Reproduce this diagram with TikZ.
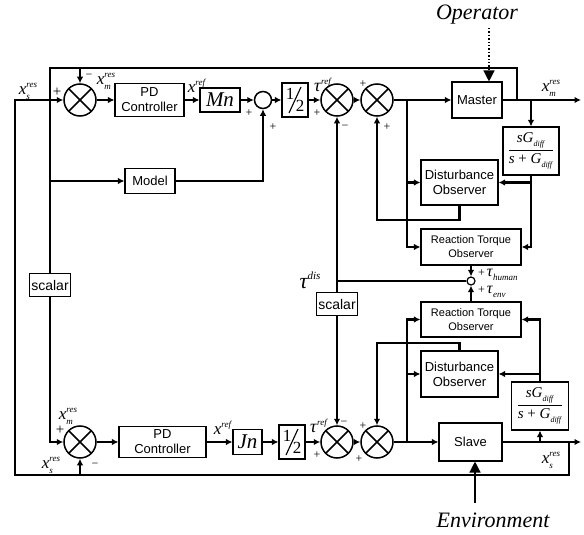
\documentclass[tikz,border=0pt]{standalone}
\usepackage{amsmath}
\usepackage{graphicx}
\usepackage{fontspec}
\setmainfont{Liberation Serif}
\newfontfamily\sansf{Liberation Sans}
\usetikzlibrary{arrows.meta}
\newcommand{\up}[2][9]{\raisebox{0.42em}{\fontsize{#1}{#1}\selectfont\textit{#2}}}
\newcommand{\dn}[2][9]{\raisebox{-0.28em}{\fontsize{#1}{#1}\selectfont\textit{#2}}}
\newcommand{\xsr}[2]{\textit{x}\rlap{\dn{#1}}\up{#2}}
\newcommand{\fracsg}{$\dfrac{\mbox{\textit{sG}\dn[8]{diff}}}{\mbox{\textit{s} + \textit{G}\dn[8]{diff}}}$}
\newcommand{\halfnum}{\raisebox{5pt}{1}\hspace{1.5pt}\raisebox{-7pt}{2}}
\tikzset{
  sig/.style={line width=2.6pt},
  arr/.style={line width=2.6pt,-{Latex[length=6.5pt,width=6.5pt]}},
  blk/.style={draw,line width=1.1pt,fill=white,inner sep=0pt,align=center,font=\sansf\fontsize{13}{15}\selectfont},
  rto/.style={blk,minimum width=100pt,minimum height=36pt,font=\sansf\fontsize{11}{14}\selectfont},
  dob/.style={blk,minimum width=77pt,minimum height=45pt},
  sgbox/.style={blk,minimum width=56pt,minimum height=48pt,font=\fontsize{15}{15}\selectfont},
  sumx/.style={circle,draw,line width=1.5pt,minimum size=32pt,inner sep=0pt,fill=white,
    path picture={\draw[line width=1.5pt] (path picture bounding box.north west)--(path picture bounding box.south east) (path picture bounding box.north east)--(path picture bounding box.south west);}},
  half/.style={blk,minimum width=26pt,minimum height=34pt,font=\fontsize{17}{17}\selectfont,
    path picture={\draw[line width=1.1pt] ([xshift=-6pt,yshift=-13pt]path picture bounding box.center)--([xshift=6pt,yshift=13pt]path picture bounding box.center);}},
  gain/.style={blk,font=\fontsize{21}{21}\selectfont\itshape},
  scl/.style={blk,minimum width=41pt,minimum height=23pt,font=\sansf\fontsize{14}{14}\selectfont},
  sgn/.style={inner sep=0pt,font=\fontsize{12}{12}\selectfont},
  bsgn/.style={inner sep=0pt,font=\fontsize{15}{15}\selectfont},
  lbl/.style={inner sep=0pt,font=\fontsize{17}{17}\selectfont},
  tlbl/.style={inner sep=0pt,font=\fontsize{18}{18}\selectfont},
  slbl/.style={inner sep=0pt,anchor=west,font=\fontsize{16}{16}\selectfont},
  big/.style={inner sep=0pt,font=\fontsize{22}{22}\selectfont\itshape},
  bigarr/.style={line width=1.4pt,-{Triangle[length=11pt,width=11pt]}},
}
\begin{document}
\begin{tikzpicture}[x=1pt,y=-1pt]
\useasboundingbox (0,0) rectangle (584,535);
% ---------- top row ----------
\node[sumx] (s1t) at (80,100) {};
\node[blk,minimum width=69pt,minimum height=33pt] (pdt) at (149.5,100) {PD\\Controller};
\node[gain,minimum width=40pt,minimum height=24pt] (mn) at (220,100) {Mn};
\node[circle,draw,line width=1.5pt,minimum size=17pt,inner sep=0pt] (c1) at (263,100) {};
\node[half] (h1) at (295,100) {\halfnum};
\node[sumx] (s2t) at (337,100) {};
\node[sumx] (s3t) at (377,100) {};
\node[blk,minimum width=50pt,minimum height=36pt] (master) at (477,100) {Master};
\node[sgbox] (sgt) at (531,151) {\fracsg};
\node[dob] (dobt) at (459.5,182.5) {Disturbance\\Observer};
\node[rto] (rtot) at (471,247) {Reaction Torque\\Observer};
\node[blk,minimum width=50pt,minimum height=25pt] (model) at (150,181) {Model};
\node[circle,draw,line width=1.2pt,minimum size=8pt,inner sep=0pt,fill=white] (c2) at (471,281) {};
\node[scl] (scal2) at (337,304) {scalar};
\node[scl] (scal1) at (50,285) {scalar};
% ---------- bottom row ----------
\node[sumx] (s1b) at (80,442) {};
\node[blk,minimum width=87pt,minimum height=31pt] (pdb) at (162.5,442) {PD\\Controller};
\node[gain,minimum width=29pt,minimum height=25pt] (jn) at (247.5,442) {Jn};
\node[half] (h2) at (292,442) {\halfnum};
\node[sumx] (s2b) at (337,442) {};
\node[sumx] (s3b) at (377,442) {};
\node[blk,minimum width=63pt,minimum height=38pt] (slave) at (470.5,442) {Slave};
\node[sgbox,minimum width=57pt] (sgb) at (540,406) {\fracsg};
\node[dob,minimum height=46pt] (dobb) at (459.5,374) {Disturbance\\Observer};
\node[rto,minimum height=35pt] (rtob) at (471,319.5) {Reaction Torque\\Observer};
% ---------- coordinates ----------
\coordinate (tl) at (50,68);
\coordinate (jm) at (517,100);
\coordinate (jsg) at (531,100);
\coordinate (mout) at (581,100);
\coordinate (j1) at (407,100);
\coordinate (fl) at (15,475);
\coordinate (fr) at (569,475);
\coordinate (js) at (569,442);
\coordinate (jsb) at (540,442);
\coordinate (sout) at (581,442);
\coordinate (j2) at (407,442);
\coordinate (td) at (337,281);
\coordinate (dt) at (377,220);
\coordinate (db) at (377,343);
% ---------- top connectors ----------
\draw[arr] (s1t) -- (pdt);
\draw[arr] (pdt) -- (mn);
\draw[arr] (mn) -- (c1);
\draw[arr] (c1) -- (h1);
\draw[arr] (h1) -- (s2t);
\draw[arr] (s2t) -- (s3t);
\draw[arr] (s3t) -- (master);
\draw[arr] (master) -- (mout);
\draw[sig] (jm) |- (tl) -- (scal1);
\draw[arr] (scal1) |- (s1b);
\draw[arr] (s1t |- tl) -- (s1t);
\draw[arr] (tl |- model) -- (model);
\draw[arr] (model) -| (c1);
\draw[arr] (jsg) -- (sgt);
\draw[arr] (sgt.south) |- (rtot.east);
\draw[arr] (sgt.south |- dobt) -- (dobt.east);
\draw[arr] (j1) |- (rtot.west);
\draw[arr] (j1 |- dobt) -- (dobt.west);
\draw[arr] (dobt.south) |- (dt) -- (s3t.south);
\draw[arr] (rtot) -- (c2);
\draw[arr] (rtob) -- (c2);
\draw[sig] (c2) -- (td);
\draw[arr] (td) -- (s2t);
\draw[sig] (td) -- (scal2);
\draw[arr] (scal2) -- (s2b);
% ---------- bottom connectors ----------
\draw[arr] (s1b) -- (pdb);
\draw[arr] (pdb) -- (jn);
\draw[arr] (jn) -- (h2);
\draw[arr] (h2) -- (s2b);
\draw[arr] (s2b) -- (s3b);
\draw[arr] (s3b) -- (slave);
\draw[arr] (slave) -- (sout);
\draw[arr] (jsb) -- (sgb);
\draw[arr] (sgb.north) |- (rtob.east);
\draw[arr] (sgb.north |- dobb) -- (dobb.east);
\draw[arr] (j2) |- (rtob.west);
\draw[arr] (j2 |- dobb) -- (dobb.west);
\draw[arr] (dobb.north) |- (db) -- (s3b.north);
\draw[arr] (js) -- (fr) -- (fl) |- (s1t);
\draw[arr] (s1b |- fl) -- (s1b);
% ---------- operator / environment ----------
\node[big] (op) at (477,15) {Operator};
\coordinate (opa) at (489,28);
\draw[bigarr,dotted] (opa) -- (master.north -| opa);
\node[big] (env) at (493,520) {Environment};
\coordinate (ena) at (475,503);
\draw[bigarr] (ena) -- (slave.south -| ena);
% ---------- labels ----------
\node[lbl] (l1) at (28,91) {\xsr{s}{res}};
\node[lbl] (l2) at (106,81) {\xsr{m}{res}};
\node[bsgn] (g1) at (57,92) {+};
\node[sgn] (g2) at (89,76) {−};
\node[lbl] (l3) at (197,86) {\textit{x}\up{ref}};
\node[sgn] (g3) at (249,113) {+};
\node[sgn] (g4) at (273,127) {+};
\node[tlbl] (l4) at (323,85) {\textit{τ}\up{ref}};
\node[sgn] (g5) at (317,113) {+};
\node[sgn] (g6) at (345,127) {−};
\node[sgn] (g7) at (363,84) {+};
\node[sgn] (g8) at (387,127) {+};
\node[lbl] (l5) at (551,88) {\xsr{m}{res}};
\node[big] (l6) at (310,280) {\textit{τ}\up[11]{dis}};
\node[slbl] (l7) at (478,275) {\fontsize{12}{12}\selectfont+\,\fontsize{16}{16}\selectfont\textit{τ}\dn[9]{human}};
\node[slbl] (l8) at (478,292) {\fontsize{12}{12}\selectfont+\,\fontsize{16}{16}\selectfont\textit{τ}\dn[9]{env}};
\node[lbl] (l9) at (68,416) {\xsr{m}{res}};
\node[bsgn] (g9) at (60,430) {+};
\node[sgn] (g10) at (95,465) {−};
\node[lbl] (l10) at (51,465) {\xsr{s}{res}};
\node[lbl] (l11) at (223,428) {\textit{x}\up{ref}};
\node[tlbl] (l12) at (319,426) {\textit{τ}\up{ref}};
\node[sgn] (g11) at (344,423) {−};
\node[sgn] (g12) at (317,455) {+};
\node[sgn] (g13) at (363,426) {+};
\node[sgn] (g14) at (359,459) {+};
\node[lbl] (l13) at (551,460) {\xsr{s}{res}};
\end{tikzpicture}
\end{document}
